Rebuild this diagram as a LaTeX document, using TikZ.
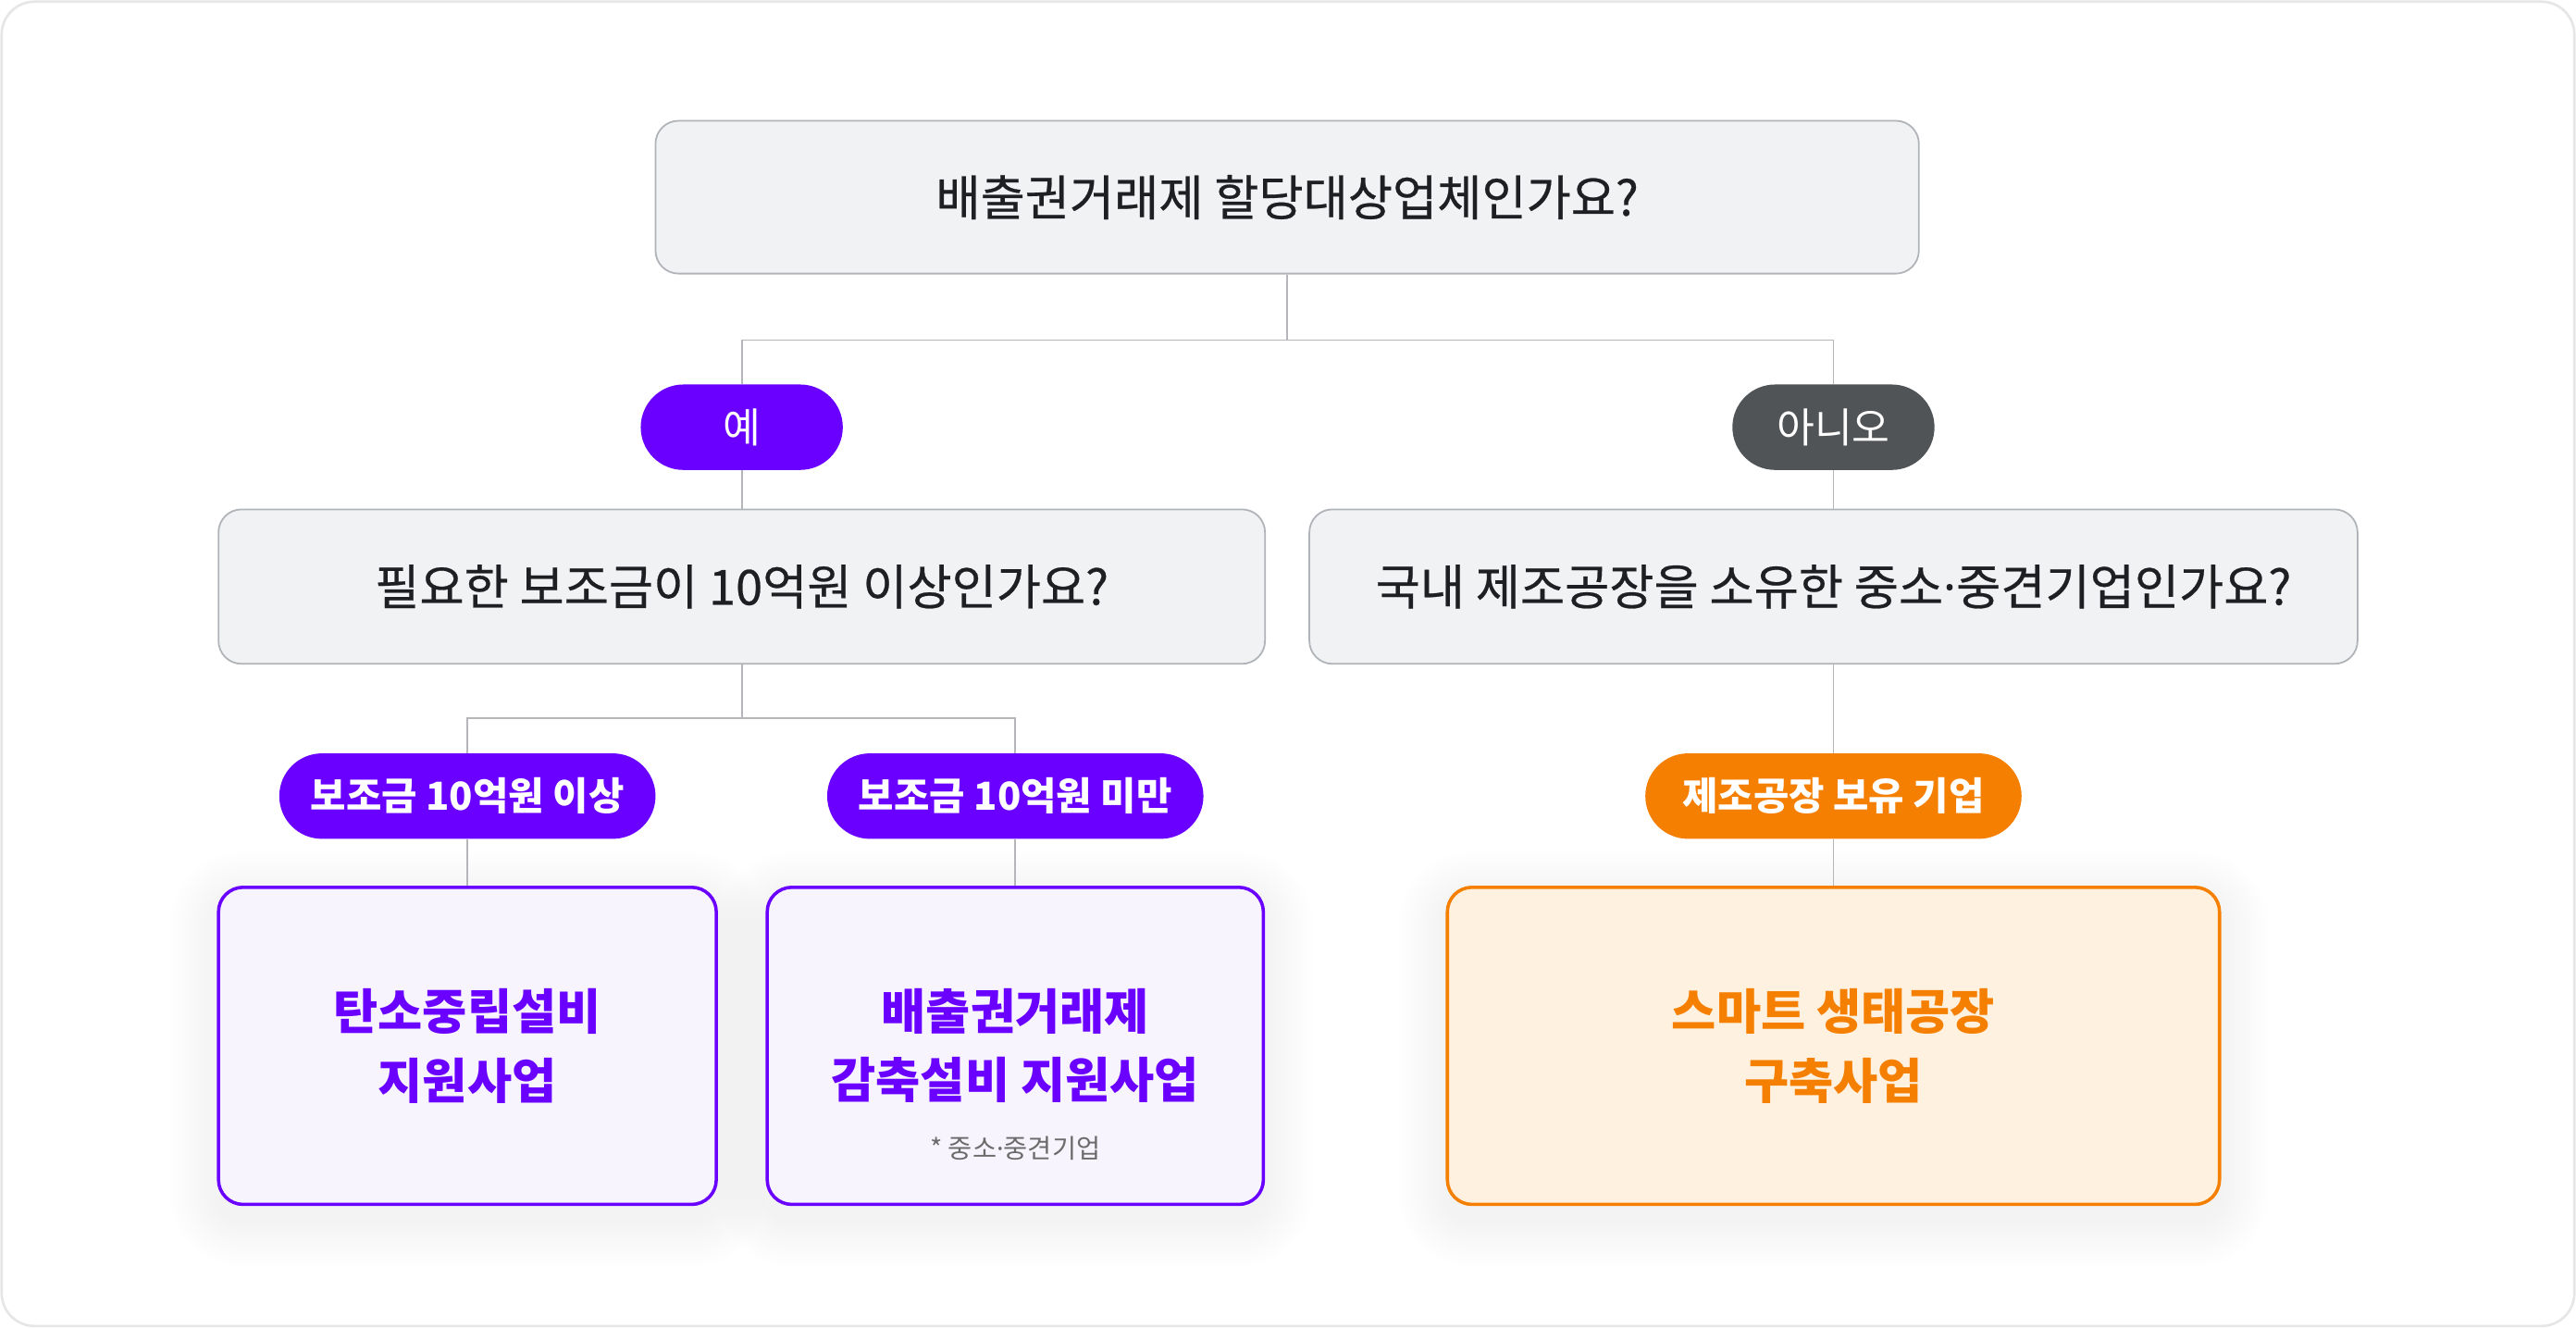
\documentclass[tikz,border=0pt]{standalone}
\usepackage{fontspec}
\setmainfont{Noto Sans CJK KR}
\newfontfamily\krmed{Noto Sans CJK KR}[FakeBold=0.5]
\newfontfamily\latinfont{Noto Sans}
\usetikzlibrary{calc}
\pgfdeclarelayer{background}
\pgfsetlayers{background,main}
\definecolor{purp}{HTML}{6A00FF}
\definecolor{purpfill}{HTML}{F7F4FE}
\definecolor{orng}{HTML}{F57F00}
\definecolor{orngfill}{HTML}{FEF1DF}
\definecolor{pillgray}{HTML}{505457}
\definecolor{qfill}{HTML}{F1F2F4}
\definecolor{qborder}{HTML}{B0B3B8}
\definecolor{conn}{HTML}{B4B6BA}
\definecolor{outer}{HTML}{E6E6E6}
\definecolor{txt}{HTML}{1E1F22}
\definecolor{smallgray}{HTML}{6B6B6B}
\newcommand{\mdot}{{\latinfont ·}}
\begin{document}
\begin{tikzpicture}[x=1pt,y=-1pt,
  qbox/.style={draw=qborder, fill=qfill, rounded corners=14pt, line width=1pt,
    inner sep=0pt, text=txt, font=\krmed\fontsize{29.5}{34}\selectfont},
  pillbase/.style={rounded corners=26pt, inner sep=0pt, minimum height=52pt, text=white},
  shortpill/.style={pillbase, minimum width=123pt, font=\fontsize{25}{30}\selectfont},
  longpill/.style={pillbase, minimum width=229pt, font=\fontsize{23.5}{28}\selectfont\bfseries},
  resbox/.style={line width=2pt, rounded corners=15pt, inner sep=0pt,
    minimum height=193pt, align=center, font=\fontsize{29.5}{42}\selectfont\bfseries},
  purpres/.style={resbox, draw=purp, fill=purpfill, text=purp},
  orngres/.style={resbox, draw=orng, fill=orngfill, text=orng},
  connector/.style={draw=conn, line width=1pt},
  shadowlayer/.style={fill=black, opacity=0.004}
]
\useasboundingbox (0,0) rectangle (1568,808);

% question boxes
\node[qbox, minimum width=769pt, minimum height=93pt] (q1) at (783.5,120) {배출권거래제 할당대상업체인가요?};
\node[qbox, minimum width=637pt, minimum height=94pt] (q2l) at (451.5,357) {필요한 보조금이 10억원 이상인가요?};
\node[qbox, minimum width=638pt, minimum height=94pt] (q2r) at (1116,357) {국내 제조공장을 소유한 중소\mdot 중견기업인가요?};

% answer pills
\node[shortpill, fill=purp] (yes) at (451.5,260) {예};
\node[shortpill, fill=pillgray] (no) at (1116,260) {아니오};
\node[longpill, fill=purp] (over) at (284.5,484.5) {보조금 10억원 이상};
\node[longpill, fill=purp] (under) at (618,484.5) {보조금 10억원 미만};
\node[longpill, fill=orng] (fact) at (1116,484.5) {제조공장 보유 기업};

% result boxes
\node[purpres, minimum width=303pt] (r1) at (284.5,636.5) {탄소중립설비\\지원사업};
\node[purpres, minimum width=302pt] (r2) at (618,636.5) {배출권거래제\\감축설비 지원사업};
\node[orngres, minimum width=470pt] (r3) at (1116,636.5) {스마트 생태공장\\구축사업};
\node[text=smallgray, font=\fontsize{16}{18}\selectfont] (note) at (618,699) {* 중소\mdot 중견기업};

% background: outer frame and soft shadows
\begin{pgfonlayer}{background}
\draw[outer, line width=1.5pt, rounded corners=20pt, fill=white] (1,1) rectangle (1567,807);
\foreach \n in {r1,r2,r3}{
  \foreach \i [evaluate=\i as \e using \i*2.4, evaluate=\i as \rr using 15+\i*2.4] in {1,...,12}{
    \fill[shadowlayer, rounded corners=\rr pt]
      ($(\n.south west)+(-\e,\e+8)$) rectangle ($(\n.north east)+(\e,-\e+8)$);
  }
}
\end{pgfonlayer}

% connectors
\coordinate (j1) at (q1.south |- 0,207);
\draw[connector] (q1.south) -- (j1);
\draw[connector] (j1) -| (yes.north);
\draw[connector] (j1) -| (no.north);
\draw[connector] (yes.south) -- (q2l.north);
\draw[connector] (no.south) -- (q2r.north);

\coordinate (j2) at (q2l.south |- 0,437);
\draw[connector] (q2l.south) -- (j2);
\draw[connector] (j2) -| (over.north);
\draw[connector] (j2) -| (under.north);
\draw[connector] (over.south) -- (r1.north);
\draw[connector] (under.south) -- (r2.north);

\draw[connector] (q2r.south) -- (fact.north);
\draw[connector] (fact.south) -- (r3.north);
\end{tikzpicture}
\end{document}
